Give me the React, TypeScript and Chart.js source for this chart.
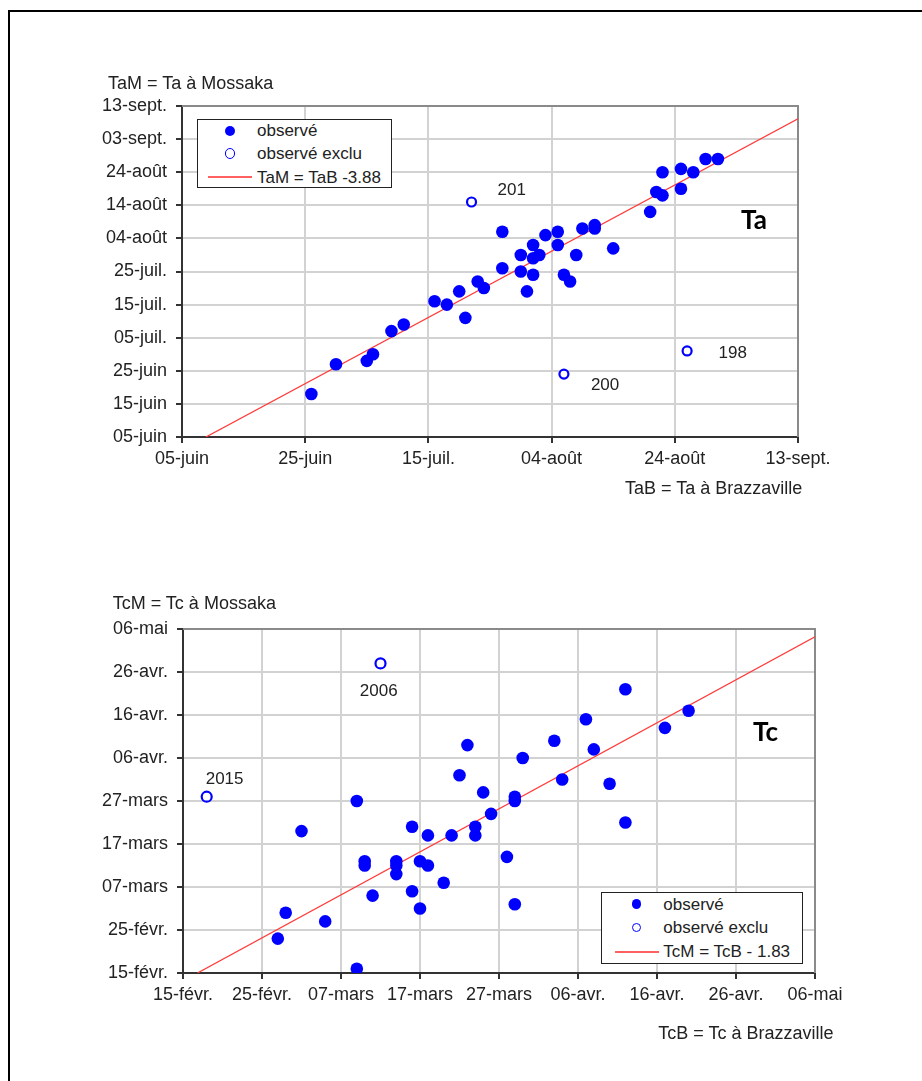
import React, { useEffect, useRef } from 'react';
import { Chart, registerables } from 'chart.js';

Chart.register(...registerables);

// ---------- Ta chart (values = days counted from 05-juin) ----------
const taXTickLabels = ['05-juin', '25-juin', '15-juil.', '04-août', '24-août', '13-sept.'];
const taYTickLabels = ['05-juin', '15-juin', '25-juin', '05-juil.', '15-juil.', '25-juil.', '04-août', '14-août', '24-août', '03-sept.', '13-sept.'];
const taObservedB = [21, 25, 30, 31, 34, 36, 41, 43, 45, 46, 48, 49, 52, 52, 55, 55, 56, 57, 57, 57, 58, 59, 61, 61, 62, 63, 64, 65, 67, 67, 70, 76, 77, 78, 78, 81, 81, 83, 85, 87];
const taObservedM = [13, 22, 23, 25, 32, 34, 41, 40, 44, 36, 47, 45, 62, 51, 55, 50, 44, 58, 54, 49, 55, 61, 62, 58, 49, 47, 55, 63, 64, 63, 57, 68, 74, 80, 73, 81, 75, 80, 84, 84];
const taExcludedB = [47, 62, 82];
const taExcludedM = [71, 19, 26];
const taExcludedLabels = ['201', '200', '198'];
const taShift = -3.88;

// ---------- Tc chart (values = days counted from 15-févr.) ----------
const tcTickLabels = ['15-févr.', '25-févr.', '07-mars', '17-mars', '27-mars', '06-avr.', '16-avr.', '26-avr.', '06-mai'];
const tcObservedB = [12, 13, 15, 18, 22, 22, 23, 23, 24, 27, 27, 27, 29, 29, 30, 30, 31, 31, 33, 34, 35, 36, 37, 37, 38, 39, 41, 42, 42, 42, 43, 47, 48, 51, 52, 54, 56, 56, 61, 64];
const tcObservedM = [8, 14, 33, 12, 40, 1, 26, 25, 18, 26, 25, 23, 34, 19, 26, 15, 32, 25, 21, 32, 46, 53, 34, 32, 42, 37, 27, 41, 40, 16, 50, 54, 45, 59, 52, 44, 66, 35, 57, 61];
const tcExcludedB = [3, 25];
const tcExcludedM = [41, 72];
const tcExcludedLabels = ['2015', '2006'];
const tcShift = -1.83;

const FONT = "'Liberation Sans', Arial, sans-serif";
const BLUE = '#0000ff';
const RED = '#ff3b3b';

const plotFrame = {
  id: 'plotFrame',
  beforeDatasetsDraw(chart: any) {
    const { ctx, chartArea: a } = chart;
    ctx.save();
    ctx.strokeStyle = '#8a8a8a';
    ctx.lineWidth = 2;
    ctx.beginPath();
    ctx.moveTo(a.left, a.top);
    ctx.lineTo(a.right, a.top);
    ctx.lineTo(a.right, a.bottom);
    ctx.stroke();
    ctx.restore();
  },
};

function makePointLabels(labels: string[], offsets: number[][]) {
  return {
    id: 'pointLabels',
    afterDatasetsDraw(chart: any) {
      const meta = chart.getDatasetMeta(1);
      const ctx = chart.ctx;
      ctx.save();
      ctx.font = `17px ${FONT}`;
      ctx.fillStyle = '#222';
      ctx.textBaseline = 'alphabetic';
      ctx.textAlign = 'left';
      meta.data.forEach((pt: any, i: number) => {
        ctx.fillText(labels[i], pt.x + offsets[i][0], pt.y + offsets[i][1]);
      });
      ctx.restore();
    },
  };
}

interface PanelOpts {
  xb: number[];
  ym: number[];
  exB: number[];
  exM: number[];
  exLabels: string[];
  labelOffsets: number[][];
  shift: number;
  max: number;
  xStep: number;
  yStep: number;
  xLabels: string[];
  yLabels: string[];
  padding: { left: number; right: number; top: number; bottom: number };
  yWidth: number;
  xHeight: number;
  openRadius: number;
}

function buildConfig(o: PanelOpts): any {
  const tickFont = { family: FONT, size: 18 };
  const grid = {
    color: '#d2d2d2',
    lineWidth: 2,
    drawTicks: true,
    tickLength: 6,
    tickColor: '#333',
    tickWidth: 2,
  };
  return {
    type: 'scatter',
    data: {
      datasets: [
        {
          label: 'observé',
          data: o.xb.map((x, i) => ({ x, y: o.ym[i] })),
          pointRadius: 6.3,
          pointBackgroundColor: BLUE,
          pointBorderWidth: 0,
          order: 1,
        },
        {
          label: 'observé exclu',
          data: o.exB.map((x, i) => ({ x, y: o.exM[i] })),
          pointRadius: o.openRadius,
          pointBackgroundColor: '#ffffff',
          pointBorderColor: BLUE,
          pointBorderWidth: 2.2,
          order: 2,
        },
        {
          label: 'fit',
          data: [
            { x: -o.shift, y: 0 },
            { x: o.max, y: o.max + o.shift },
          ],
          showLine: true,
          borderColor: RED,
          borderWidth: 1.3,
          pointRadius: 0,
          order: 3,
        },
      ],
    },
    options: {
      responsive: false,
      animation: false,
      events: [],
      layout: { padding: o.padding },
      plugins: { legend: { display: false }, tooltip: { enabled: false } },
      scales: {
        x: {
          type: 'linear',
          min: 0,
          max: o.max,
          grid,
          border: { display: true, color: '#333', width: 2 },
          ticks: {
            stepSize: o.xStep,
            autoSkip: false,
            maxRotation: 0,
            padding: 5,
            color: '#222',
            font: tickFont,
            callback: (v: number) => o.xLabels[Math.round(v / o.xStep)],
          },
          afterFit: (s: any) => {
            s.height = o.xHeight;
          },
        },
        y: {
          type: 'linear',
          min: 0,
          max: o.max,
          grid,
          border: { display: true, color: '#333', width: 2 },
          ticks: {
            stepSize: o.yStep,
            autoSkip: false,
            padding: 9,
            color: '#222',
            font: tickFont,
            callback: (v: number) => o.yLabels[Math.round(v / o.yStep)],
          },
          afterFit: (s: any) => {
            s.width = o.yWidth;
          },
        },
      },
    },
    plugins: [plotFrame, makePointLabels(o.exLabels, o.labelOffsets)],
  };
}

function ChartCanvas({ top, height, opts }: { top: number; height: number; opts: PanelOpts }) {
  const ref = useRef<HTMLCanvasElement | null>(null);
  useEffect(() => {
    if (!ref.current) return;
    const chart = new Chart(ref.current, buildConfig(opts));
    return () => chart.destroy();
  }, []);
  return (
    <canvas
      ref={ref}
      width={922}
      height={height}
      style={{ position: 'absolute', left: 0, top, width: 922, height, display: 'block' }}
    />
  );
}

function Txt({ x, baseline, size = 18, bold = false, family = FONT, children }: any) {
  const k = family.includes('Lato') ? 0.887 : 0.8465;
  return (
    <div
      style={{
        position: 'absolute',
        left: x,
        top: baseline - k * size,
        fontFamily: family,
        fontSize: size,
        lineHeight: `${size}px`,
        fontWeight: bold ? 700 : 400,
        color: bold ? '#000' : '#222',
        whiteSpace: 'nowrap',
      }}
    >
      {children}
    </div>
  );
}

function Dot({ cx, cy, d, open = false, bw = 1.6 }: any) {
  return (
    <div
      style={{
        position: 'absolute',
        left: cx - d / 2,
        top: cy - d / 2,
        width: d,
        height: d,
        borderRadius: '50%',
        boxSizing: 'border-box',
        background: open ? '#fff' : BLUE,
        border: open ? `${bw}px solid ${BLUE}` : 'none',
      }}
    />
  );
}

function Line({ x, y, w }: any) {
  return <div style={{ position: 'absolute', left: x, top: Math.round(y) - 1, width: w, height: 2, background: '#ff6060' }} />;
}

function Box({ x, y, w, h }: any) {
  return (
    <div
      style={{
        position: 'absolute',
        left: x,
        top: y,
        width: w,
        height: h,
        boxSizing: 'border-box',
        border: '1.5px solid #222',
        background: '#fff',
      }}
    />
  );
}

const taOpts: PanelOpts = {
  xb: taObservedB,
  ym: taObservedM,
  exB: taExcludedB,
  exM: taExcludedM,
  exLabels: taExcludedLabels,
  labelOffsets: [
    [26, -7],
    [27, 16],
    [31.5, 7.5],
  ],
  shift: taShift,
  max: 100,
  xStep: 20,
  yStep: 10,
  xLabels: taXTickLabels,
  yLabels: taYTickLabels,
  padding: { left: 60, right: 124, top: 106, bottom: 53 },
  yWidth: 122,
  xHeight: 50,
  openRadius: 4.5,
};

const tcOpts: PanelOpts = {
  xb: tcObservedB,
  ym: tcObservedM,
  exB: tcExcludedB,
  exM: tcExcludedM,
  exLabels: tcExcludedLabels,
  labelOffsets: [
    [-1, -12.7],
    [-20.7, 33],
  ],
  shift: tcShift,
  max: 80,
  xStep: 10,
  yStep: 10,
  xLabels: tcTickLabels,
  yLabels: tcTickLabels,
  padding: { left: 60, right: 107, top: 89, bottom: 58 },
  yWidth: 123,
  xHeight: 50,
  openRadius: 5,
};

export default function App() {
  return (
    <div
      style={{
        position: 'absolute',
        left: 0,
        top: 0,
        width: 922,
        height: 1081,
        overflow: 'hidden',
        background: '#fff',
      }}
    >
      <div
        style={{
          position: 'absolute',
          left: 8,
          top: 10,
          width: 914,
          height: 1071,
          boxSizing: 'border-box',
          borderTop: '2px solid #000',
          borderLeft: '2px solid #000',
        }}
      />
      <ChartCanvas top={0} height={540} opts={taOpts} />
      <ChartCanvas top={540} height={541} opts={tcOpts} />

      {/* Ta chart texts */}
      <Txt x={108} baseline={89}>TaM = Ta à Mossaka</Txt>
      <Txt x={625} baseline={494}>TaB = Ta à Brazzaville</Txt>
      <Txt x={741} baseline={229} size={26} bold family="Lato, 'Liberation Sans', sans-serif">Ta</Txt>
      <Box x={197} y={119} w={195} h={69} />
      <Dot cx={230} cy={131} d={10.5} />
      <Txt x={257} baseline={136.7} size={17}>observé</Txt>
      <Dot cx={230} cy={153.3} d={10.5} open bw={1.8} />
      <Txt x={257} baseline={159.3} size={17}>observé exclu</Txt>
      <Line x={208} y={177.3} w={44} />
      <Txt x={257} baseline={183.3} size={17}>TaM = TaB -3.88</Txt>

      {/* Tc chart texts */}
      <Txt x={112.7} baseline={609.5}>TcM = Tc à Mossaka</Txt>
      <Txt x={658.3} baseline={1039.3}>TcB = Tc à Brazzaville</Txt>
      <Txt x={753} baseline={741} size={26} bold family="Lato, 'Liberation Sans', sans-serif">Tc</Txt>
      <Box x={601} y={892} w={202} h={72} />
      <Dot cx={636.7} cy={904} d={9.6} />
      <Txt x={663.3} baseline={910} size={17}>observé</Txt>
      <Dot cx={636.7} cy={927.7} d={9.6} open bw={1.4} />
      <Txt x={663.3} baseline={933.3} size={17}>observé exclu</Txt>
      <Line x={615} y={952.3} w={44} />
      <Txt x={663.3} baseline={957.3} size={17}>TcM = TcB - 1.83</Txt>
    </div>
  );
}
